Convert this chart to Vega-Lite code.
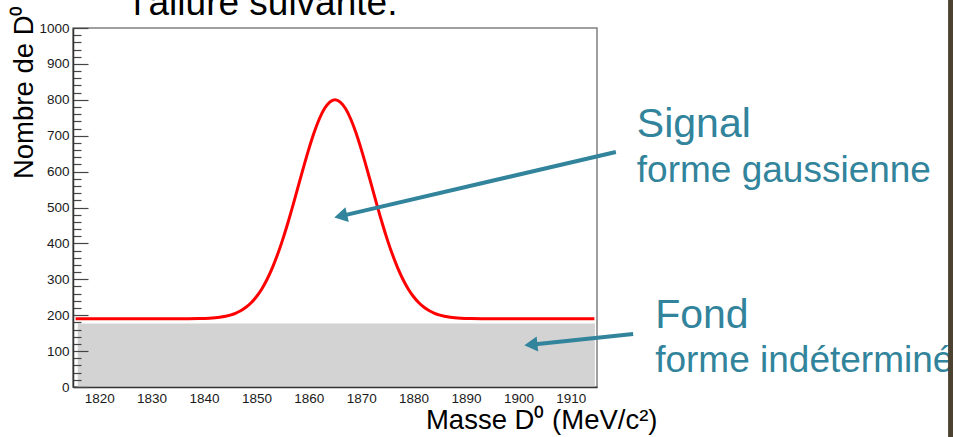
{
  "$schema": "https://vega.github.io/schema/vega-lite/v6.json",
  "width": 524,
  "height": 359,
  "autosize": {"type": "none"},
  "padding": {"left": 73, "top": 28, "right": 356, "bottom": 50},
  "background": "white",
  "config": {
    "view": {"stroke": "#808080", "strokeWidth": 1.5},
    "font": "Liberation Sans"
  },
  "encoding": {
    "x": {
      "field": "x", "type": "quantitative",
      "scale": {"domain": [1815, 1915], "nice": false, "zero": false},
      "axis": {
        "title": "Masse D⁰ (MeV/c²)",
        "values": [1820, 1830, 1840, 1850, 1860, 1870, 1880, 1890, 1900, 1910],
        "format": "d",
        "ticks": false, "grid": false,
        "domainColor": "#333333", "domainWidth": 1.5,
        "labelFontSize": 13.5, "labelColor": "#1a1a1a", "labelPadding": 4, "labelFlush": false,
        "titleFontSize": 27.5, "titleFontWeight": "normal", "titleColor": "#000000",
        "titleAnchor": "end", "titleAlign": "right", "titleX": 584, "titleY": 41, "titleBaseline": "alphabetic",
        "zindex": 1
      }
    },
    "y": {
      "field": "y", "type": "quantitative",
      "scale": {"domain": [0, 1000], "nice": false},
      "axis": {
        "title": "Nombre de D⁰",
        "values": [0, 20, 40, 60, 80, 100, 120, 140, 160, 180, 200, 220, 240, 260, 280, 300, 320, 340, 360, 380, 400, 420, 440, 460, 480, 500, 520, 540, 560, 580, 600, 620, 640, 660, 680, 700, 720, 740, 760, 780, 800, 820, 840, 860, 880, 900, 920, 940, 960, 980, 1000],
        "format": "d",
        "labelExpr": "datum.value % 100 === 0 ? datum.label : ''",
        "tickSize": {"condition": {"test": "datum.value % 100 === 0", "value": -15}, "value": -8},
        "labelPadding": {"condition": {"test": "datum.value % 100 === 0", "value": 19}, "value": 12},
        "tickColor": "#444444", "tickWidth": 1.2,
        "grid": false,
        "domainColor": "#333333", "domainWidth": 1.5,
        "labelFontSize": 13.5, "labelColor": "#1a1a1a", "labelFlush": false,
        "titleFontSize": 27.5, "titleFontWeight": "normal", "titleColor": "#000000",
        "titleAnchor": "end", "titleAlign": "right", "titleX": -49, "titleY": -23, "titleBaseline": "middle",
        "zindex": 1
      }
    }
  },
  "layer": [
    {
      "data": {"values": [{"x": 1815.9, "x2": 1914.6, "y": 0, "y2": 177}]},
      "mark": {"type": "rect", "color": "#d3d3d3"},
      "encoding": {
        "x2": {"field": "x2"},
        "y2": {"field": "y2"}
      }
    },
    {
      "data": {"values": [
        {"x": 1815.5, "y": 190}, {"x": 1825, "y": 190}, {"x": 1835, "y": 190}, {"x": 1839, "y": 190.6},
        {"x": 1841, "y": 191.7}, {"x": 1843, "y": 194.4}, {"x": 1845, "y": 200.3}, {"x": 1846, "y": 205.3},
        {"x": 1847, "y": 212.4}, {"x": 1848, "y": 222.0}, {"x": 1849, "y": 234.8}, {"x": 1850, "y": 251.4},
        {"x": 1851, "y": 272.5}, {"x": 1852, "y": 298.8}, {"x": 1853, "y": 330.4}, {"x": 1854, "y": 367.4},
        {"x": 1855, "y": 409.9}, {"x": 1856, "y": 456.9}, {"x": 1857, "y": 507.4}, {"x": 1858, "y": 560.0},
        {"x": 1859, "y": 612.5}, {"x": 1860, "y": 662.6}, {"x": 1861, "y": 708.1}, {"x": 1862, "y": 746.5},
        {"x": 1863, "y": 775.6}, {"x": 1864, "y": 793.8}, {"x": 1865, "y": 800},
        {"x": 1866, "y": 793.8}, {"x": 1867, "y": 775.6}, {"x": 1868, "y": 746.5}, {"x": 1869, "y": 708.1},
        {"x": 1870, "y": 662.6}, {"x": 1871, "y": 612.5}, {"x": 1872, "y": 560.0}, {"x": 1873, "y": 507.4},
        {"x": 1874, "y": 456.9}, {"x": 1875, "y": 409.9}, {"x": 1876, "y": 367.4}, {"x": 1877, "y": 330.4},
        {"x": 1878, "y": 298.8}, {"x": 1879, "y": 272.5}, {"x": 1880, "y": 251.4}, {"x": 1881, "y": 234.8},
        {"x": 1882, "y": 222.0}, {"x": 1883, "y": 212.4}, {"x": 1884, "y": 205.3}, {"x": 1885, "y": 200.3},
        {"x": 1887, "y": 194.4}, {"x": 1889, "y": 191.7}, {"x": 1891, "y": 190.6}, {"x": 1895, "y": 190},
        {"x": 1905, "y": 190}, {"x": 1914.5, "y": 190}
      ]},
      "mark": {"type": "line", "color": "#ff0000", "strokeWidth": 3, "interpolate": "monotone"}
    },
    {
      "data": {"values": [
        {"x": 1918.6, "y": 654.6, "x2": 1866.5, "y2": 477.4},
        {"x": 1921.9, "y": 147.6, "x2": 1902.8, "y2": 118.7}
      ]},
      "mark": {"type": "rule", "color": "#31849B", "strokeWidth": 4},
      "encoding": {
        "x2": {"field": "x2"},
        "y2": {"field": "y2"}
      }
    },
    {
      "data": {"values": [{"x": 1866.5, "y": 477.4}]},
      "mark": {"type": "point", "shape": "triangle", "filled": true, "size": 230, "angle": 257, "color": "#31849B", "opacity": 1}
    },
    {
      "data": {"values": [{"x": 1902.8, "y": 118.7}]},
      "mark": {"type": "point", "shape": "triangle", "filled": true, "size": 230, "angle": 264, "color": "#31849B", "opacity": 1}
    },
    {
      "data": {"values": [
        {"x": 1922.6, "y": 696.4, "text": "Signal"},
        {"x": 1926.1, "y": 164.3, "text": "Fond"}
      ]},
      "mark": {"type": "text", "align": "left", "baseline": "alphabetic", "fontSize": 41, "color": "#31849B", "font": "Liberation Sans"},
      "encoding": {"text": {"field": "text"}}
    },
    {
      "data": {"values": [
        {"x": 1922.6, "y": 571, "text": "forme gaussienne"},
        {"x": 1926.1, "y": 41.8, "text": "forme indéterminée"}
      ]},
      "mark": {"type": "text", "align": "left", "baseline": "alphabetic", "fontSize": 37, "color": "#31849B", "font": "Liberation Sans"},
      "encoding": {"text": {"field": "text"}}
    },
    {
      "data": {"values": [{"x": 1826.5, "y": 1036, "text": "l'allure suivante."}]},
      "mark": {"type": "text", "align": "left", "baseline": "alphabetic", "fontSize": 37, "color": "#000000", "font": "Liberation Sans"},
      "encoding": {"text": {"field": "text"}}
    },
    {
      "data": {"values": [{"x": 1982, "x2": 2000, "y": -150, "y2": 1100}]},
      "mark": {"type": "rect", "color": "#4b4232"},
      "encoding": {
        "x2": {"field": "x2"},
        "y2": {"field": "y2"}
      }
    }
  ]
}
